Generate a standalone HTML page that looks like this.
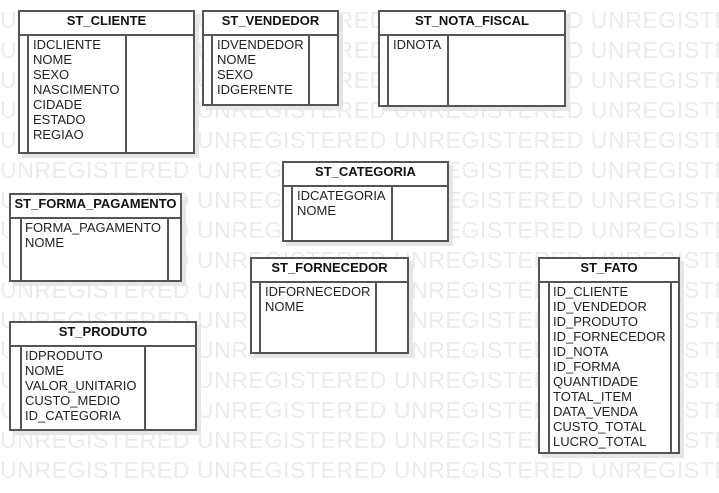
<!DOCTYPE html>
<html><head><meta charset="utf-8"><style>
body{margin:0;width:719px;height:493px;background:#fff;position:relative;overflow:hidden;font-family:"Liberation Sans",sans-serif}
.wm{position:absolute;left:0;font-size:23px;line-height:24px;color:#ebebeb;white-space:pre;letter-spacing:0.6px}
.t{position:absolute;background:#fff;border:2px solid #555;box-sizing:border-box;box-shadow:4px 4px 0 #e6e6e6}
.h{height:22px;border-bottom:2px solid #555;text-align:center;font-weight:bold;font-size:13px;line-height:17px;color:#111}
.bar{position:absolute;top:22px;bottom:0;border-left:2px solid #555}
.items{position:absolute;font-size:13px;line-height:15px;color:#222}
</style></head><body>
<div id="wms"></div>
<script>
var s="";for(var i=0;i<16;i++){s+='<div class="wm" style="top:'+(8+30*i)+'px">UNREGISTERED UNREGISTERED UNREGISTERED UNREGISTERED</div>';}
document.getElementById('wms').innerHTML=s;
</script>

<div class="t" style="left:18px;top:10px;width:177px;height:144px"><div class="h">ST_CLIENTE</div><div class="bar" style="left:7px"></div><div class="bar" style="left:105px"></div><div class="items" style="left:13px;top:25px">IDCLIENTE<br>NOME<br>SEXO<br>NASCIMENTO<br>CIDADE<br>ESTADO<br>REGIAO</div></div>

<div class="t" style="left:202px;top:10px;width:137px;height:96px"><div class="h">ST_VENDEDOR</div><div class="bar" style="left:7px"></div><div class="bar" style="left:104px"></div><div class="items" style="left:13px;top:25px">IDVENDEDOR<br>NOME<br>SEXO<br>IDGERENTE</div></div>

<div class="t" style="left:378px;top:10px;width:188px;height:97px"><div class="h">ST_NOTA_FISCAL</div><div class="bar" style="left:7px"></div><div class="bar" style="left:67px"></div><div class="items" style="left:13px;top:25px">IDNOTA</div></div>

<div class="t" style="left:282px;top:161px;width:167px;height:81px"><div class="h">ST_CATEGORIA</div><div class="bar" style="left:7px"></div><div class="bar" style="left:107px"></div><div class="items" style="left:13px;top:25px">IDCATEGORIA<br>NOME</div></div>

<div class="t" style="left:9px;top:193px;width:173px;height:89px"><div class="h">ST_FORMA_PAGAMENTO</div><div class="bar" style="left:9px"></div><div class="bar" style="left:156px"></div><div class="items" style="left:14px;top:25px">FORMA_PAGAMENTO<br>NOME</div></div>

<div class="t" style="left:250px;top:257px;width:159px;height:97px"><div class="h">ST_FORNECEDOR</div><div class="bar" style="left:7px"></div><div class="bar" style="left:123px"></div><div class="items" style="left:13px;top:25px">IDFORNECEDOR<br>NOME</div></div>

<div class="t" style="left:9px;top:321px;width:188px;height:110px"><div class="h">ST_PRODUTO</div><div class="bar" style="left:9px"></div><div class="bar" style="left:133px"></div><div class="items" style="left:14px;top:25px">IDPRODUTO<br>NOME<br>VALOR_UNITARIO<br>CUSTO_MEDIO<br>ID_CATEGORIA</div></div>

<div class="t" style="left:538px;top:257px;width:142px;height:197px"><div class="h">ST_FATO</div><div class="bar" style="left:8px"></div><div class="bar" style="left:130px"></div><div class="items" style="left:13px;top:25px">ID_CLIENTE<br>ID_VENDEDOR<br>ID_PRODUTO<br>ID_FORNECEDOR<br>ID_NOTA<br>ID_FORMA<br>QUANTIDADE<br>TOTAL_ITEM<br>DATA_VENDA<br>CUSTO_TOTAL<br>LUCRO_TOTAL</div></div>
</body></html>
